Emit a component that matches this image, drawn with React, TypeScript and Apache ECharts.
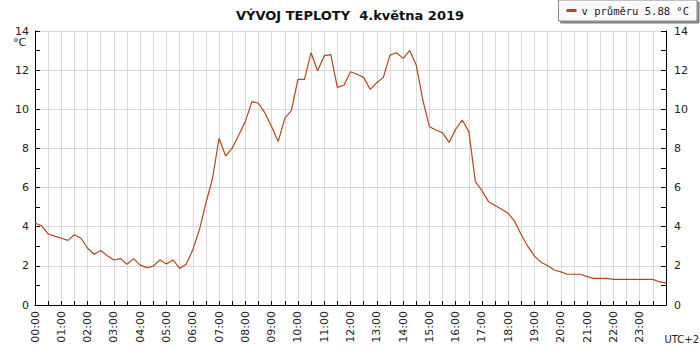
import React, { useEffect, useRef } from "react";
import * as echarts from "echarts";

const titleText = "VÝVOJ TEPLOTY  4.května 2019";
const seriesName = "v průměru 5.88 °C";
const stepMinutes = 15;
const temperatures = [
  4.19, 4.05, 3.63, 3.52, 3.41, 3.30, 3.59, 3.41, 2.90, 2.59, 2.78, 2.52,
  2.30, 2.37, 2.08, 2.37, 2.04, 1.91, 1.99, 2.30, 2.10, 2.30, 1.87, 2.08,
  2.81, 3.83, 5.20, 6.45, 8.52, 7.61, 8.01, 8.69, 9.37, 10.39, 10.31, 9.80,
  9.11, 8.35, 9.54, 9.93, 11.53, 11.53, 12.89, 11.97, 12.74, 12.79, 11.12, 11.23,
  11.92, 11.79, 11.63, 11.02, 11.36, 11.63, 12.77, 12.89, 12.6, 13.0, 12.26, 10.48,
  9.11, 8.94, 8.81, 8.31, 8.98, 9.45, 8.86, 6.30, 5.84, 5.28, 5.08, 4.89,
  4.68, 4.26, 3.58, 2.98, 2.50, 2.18, 2.01, 1.79, 1.69, 1.57, 1.57, 1.57,
  1.45, 1.36, 1.36, 1.36, 1.31, 1.31, 1.31, 1.31, 1.31, 1.31, 1.31, 1.19,
  1.12,
];

const FONT = "DejaVu Sans";

export default function App() {
  const ref = useRef<HTMLDivElement>(null);
  useEffect(() => {
    if (!ref.current) return;
    const chart = echarts.init(ref.current, null, { renderer: "svg" });
    const data = temperatures.map((v, i) => [i * stepMinutes, v]);
    const fmtTime = (v: number) => {
      if (v % 60 !== 0 || v >= 1440) return "";
      const h = v / 60;
      return (h < 10 ? "0" : "") + h + ":00";
    };
    const yAxisCommon = {
      type: "value",
      min: 0,
      max: 14,
      interval: 2,
      axisLine: { show: true, lineStyle: { color: "#000", width: 1 } },
      axisTick: { show: true, inside: true, length: 5, lineStyle: { color: "#000" } },
      minorTick: { show: true, splitNumber: 2, length: 5, lineStyle: { color: "#000" } },
      axisLabel: { color: "#222", fontFamily: FONT, fontSize: 11 },
    };
    chart.setOption({
      animation: false,
      backgroundColor: "#fff",
      title: {
        text: titleText,
        left: "center",
        top: 4,
        textStyle: { fontFamily: FONT, fontSize: 13, fontWeight: "bold", color: "#111" },
      },
      legend: {
        right: 3,
        top: 0,
        padding: [5, 8, 5, 8],
        itemWidth: 10,
        itemHeight: 3,
        itemGap: 6,
        icon: "rect",
        backgroundColor: "#fafafa",
        borderColor: "#888",
        borderWidth: 1,
        shadowColor: "rgba(0,0,0,0.5)",
        shadowOffsetX: 2,
        shadowOffsetY: 2,
        shadowBlur: 0,
        textStyle: { fontFamily: "DejaVu Sans Mono", fontSize: 10.5, color: "#222" },
        data: [seriesName],
      },
      grid: { left: 35, right: 34, top: 31, bottom: 45, containLabel: false },
      xAxis: {
        type: "value",
        min: 0,
        max: 1440,
        interval: 30,
        axisLine: { show: true, onZero: false, lineStyle: { color: "#000" } },
        axisTick: { show: true, inside: true, length: 4, lineStyle: { color: "#000" } },
        axisLabel: {
          rotate: 90,
          color: "#222",
          fontFamily: FONT,
          fontSize: 11,
          margin: 6,
          formatter: fmtTime,
          showMaxLabel: false,
        },
        splitLine: { show: true, lineStyle: { color: "#d9d9d9", width: 1 } },
      },
      yAxis: [
        {
          ...yAxisCommon,
          position: "left",
          axisLabel: { ...yAxisCommon.axisLabel, margin: 6 },
          splitLine: { show: true, lineStyle: { color: "#d9d9d9", width: 1 } },
        },
        {
          ...yAxisCommon,
          position: "right",
          axisLabel: { ...yAxisCommon.axisLabel, margin: 8 },
          splitLine: { show: false },
        },
      ],
      graphic: [
        {
          type: "text",
          left: 13,
          top: 37,
          style: { text: "°C", fontFamily: FONT, fontSize: 11, fill: "#222" },
        },
        {
          type: "text",
          right: 1,
          top: 334,
          style: { text: "UTC+2", fontFamily: FONT, fontSize: 10, fill: "#222" },
        },
      ],
      series: [
        {
          name: seriesName,
          type: "line",
          data,
          showSymbol: false,
          symbol: "none",
          lineStyle: { color: "#b5451b", width: 1.2 },
          itemStyle: { color: "#b5451b" },
          yAxisIndex: 0,
        },
      ],
    });
    return () => chart.dispose();
  }, []);
  return <div ref={ref} style={{ width: 700, height: 350, position: "absolute", left: 0, top: 0 }} />;
}
